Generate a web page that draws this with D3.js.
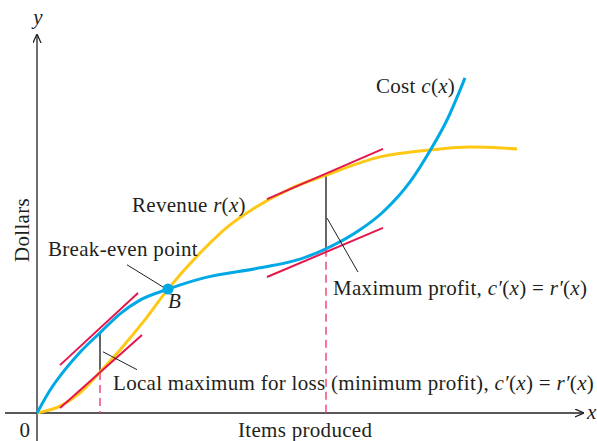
<!DOCTYPE html>
<html>
<head>
<meta charset="utf-8">
<script src="https://cdn.jsdelivr.net/npm/d3@7"></script>
<style>
  body { margin: 0; background: #fff; }
  svg { display: block; }
  text { font-family: "Liberation Serif", "Times New Roman", serif; fill: #231f20; letter-spacing: 0.3px; }
  .it { font-style: italic; }
</style>
</head>
<body>
<svg id="chart" width="597" height="441"></svg>
<script>
// Curves (items produced, dollars; arbitrary units)
const costX    = [0, 2.6, 5.6, 8.6, 12.6, 16.6, 20.6, 26.2, 33.2, 44.6, 52.6, 57.8, 64.6, 69.2, 74.6, 78.6, 82.0, 85.6];
const costY    = [0, 6.0, 11.4, 16.0, 21.1, 26.1, 29.7, 32.6, 35.5, 38.2, 40.5, 43.2, 48.2, 52.9, 60.8, 69.0, 77.1, 88.2];
const revenueX = [0, 4.6, 8.6, 12.6, 16.6, 21.2, 26.2, 33.2, 38.6, 43.2, 50.6, 57.8, 68.6, 78.6, 86.6, 96.0];
const revenueY = [0, 1.8, 5.3, 10.8, 16.6, 23.9, 32.6, 42.9, 49.5, 53.7, 59.0, 62.6, 67.4, 69.2, 70.0, 69.5];

// Tangent segments [x1, y1, x2, y2]
const tangents = [
  [4.6, 12.6, 20.2, 31.6],   // cost at local max loss
  [4.6, 1.3, 21.0, 20.5],    // revenue at local max loss
  [46.0, 56.3, 69.2, 69.5],  // revenue at max profit
  [46.0, 35.8, 69.2, 48.7]   // cost at max profit
];

// Points where c'(x) = r'(x): x, upper curve, lower curve
const criticalX   = [12.6, 57.8];
const criticalTop = [21.1, 62.6];
const criticalLow = [10.8, 43.2];

const breakEven = [26.2, 32.6];

const svg = d3.select('#chart');

const x = d3.scaleLinear().domain([0, 110]).range([37, 587]);
const y = d3.scaleLinear().domain([0, 100]).range([413, 33]);

const cyan = '#00a9e6', yellow = '#ffc814', red = '#e4174d', pink = '#ef4a76', ink = '#231f20';

// Arrow marker
svg.append('defs').append('marker')
  .attr('id', 'arrow')
  .attr('viewBox', '0 -5 10 10')
  .attr('refX', 9)
  .attr('refY', 0)
  .attr('orient', 'auto')
  .attr('markerWidth', 9)
  .attr('markerHeight', 9)
  .attr('markerUnits', 'userSpaceOnUse')
  .append('path')
  .attr('d', 'M0,-4.5L10,0L0,4.5')
  .attr('fill', 'none')
  .attr('stroke', ink)
  .attr('stroke-width', 1.4);

// Axes (no ticks)
svg.append('line')
  .attr('x1', x(-6.4)).attr('y1', y(0))
  .attr('x2', x(109.2)).attr('y2', y(0))
  .attr('stroke', ink).attr('stroke-width', 1.3)
  .attr('marker-end', 'url(#arrow)');
svg.append('line')
  .attr('x1', x(0)).attr('y1', y(-7.5))
  .attr('x2', x(0)).attr('y2', y(99.5))
  .attr('stroke', ink).attr('stroke-width', 1.3)
  .attr('marker-end', 'url(#arrow)');

// Dashed drop lines
svg.selectAll('.drop')
  .data(criticalX)
  .enter().append('line')
  .attr('class', 'drop')
  .attr('x1', d => x(d)).attr('x2', d => x(d))
  .attr('y1', (d, i) => y(criticalLow[i]))
  .attr('y2', y(0))
  .attr('stroke', pink).attr('stroke-width', 1.5)
  .attr('stroke-dasharray', '8,5');

// Profit gap lines
svg.selectAll('.gap')
  .data(criticalX)
  .enter().append('line')
  .attr('class', 'gap')
  .attr('x1', d => x(d)).attr('x2', d => x(d))
  .attr('y1', (d, i) => y(criticalTop[i]))
  .attr('y2', (d, i) => y(criticalLow[i]))
  .attr('stroke', '#333').attr('stroke-width', 1.5);

const line = d3.line()
  .x(d => x(d[0]))
  .y(d => y(d[1]))
  .curve(d3.curveMonotoneX);

svg.append('path')
  .datum(revenueX.map((v, i) => [v, revenueY[i]]))
  .attr('d', line)
  .attr('fill', 'none').attr('stroke', yellow).attr('stroke-width', 3);

svg.append('path')
  .datum(costX.map((v, i) => [v, costY[i]]))
  .attr('d', line)
  .attr('fill', 'none').attr('stroke', cyan).attr('stroke-width', 3);

svg.selectAll('.tangent')
  .data(tangents)
  .enter().append('line')
  .attr('class', 'tangent')
  .attr('x1', d => x(d[0])).attr('y1', d => y(d[1]))
  .attr('x2', d => x(d[2])).attr('y2', d => y(d[3]))
  .attr('stroke', red).attr('stroke-width', 2);

// Leader lines
const leaders = [
  [18.0, 39.0, 25.4, 33.0],
  [13.2, 16.1, 20.0, 11.4],
  [58.0, 51.3, 64.2, 37.1]
];
svg.selectAll('.leader')
  .data(leaders)
  .enter().append('line')
  .attr('class', 'leader')
  .attr('x1', d => x(d[0])).attr('y1', d => y(d[1]))
  .attr('x2', d => x(d[2])).attr('y2', d => y(d[3]))
  .attr('stroke', ink).attr('stroke-width', 1);

svg.append('circle')
  .attr('cx', x(breakEven[0])).attr('cy', y(breakEven[1]))
  .attr('r', 5.5).attr('fill', cyan);

// Labels
const fs = 21;
function label(tx, ty, parts, anchor) {
  const t = svg.append('text')
    .attr('x', tx).attr('y', ty)
    .attr('font-size', fs)
    .attr('text-anchor', anchor || 'start');
  parts.forEach(p => {
    t.append('tspan').attr('class', p[1] ? 'it' : null).text(p[0]);
  });
  return t;
}

label(38, 24, [['y', true]], 'middle');
label(587, 419, [['x', true]]);
label(25, 437, [['0']], 'middle');
label(238, 437, [['Items produced']]);
svg.append('text')
  .attr('transform', 'translate(29,230) rotate(-90)')
  .attr('text-anchor', 'middle')
  .attr('font-size', fs)
  .text('Dollars');

label(376, 93, [['Cost '], ['c', true], ['('], ['x', true], [')']]);
label(132, 212, [['Revenue '], ['r', true], ['('], ['x', true], [')']]);
label(48, 256, [['Break-even point']]);
label(168, 308, [['B', true]]);
label(333, 295, [['Maximum profit, '], ['c\u2032', true], ['('], ['x', true], [') = '], ['r\u2032', true], ['('], ['x', true], [')']]);
label(113, 390, [['Local maximum for loss (minimum profit), '], ['c\u2032', true], ['('], ['x', true], [') = '], ['r\u2032', true], ['('], ['x', true], [')']]);
</script>
</body>
</html>
